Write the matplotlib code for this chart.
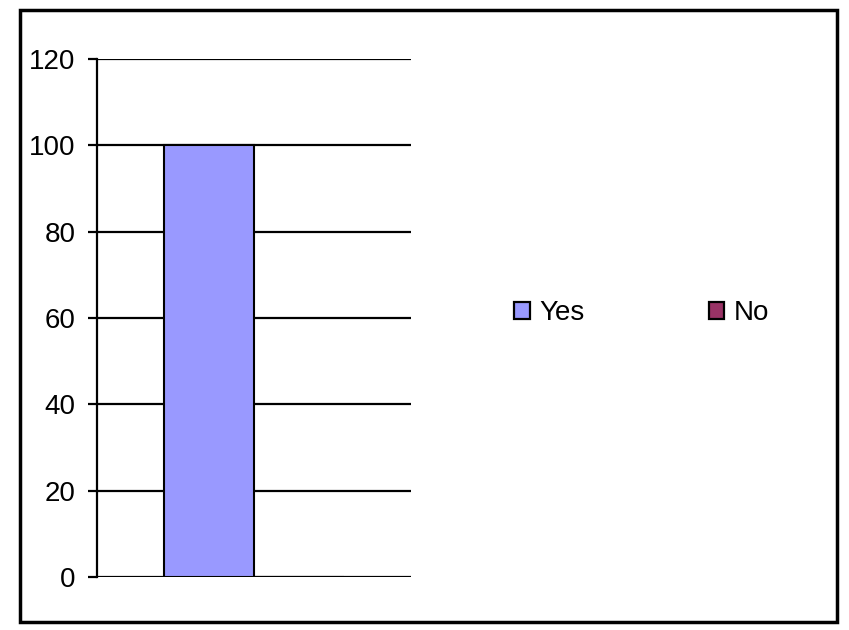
import matplotlib.pyplot as plt
from matplotlib.patches import Patch, Rectangle
import numpy as np

plt.rcParams['font.family'] = ['Liberation Sans', 'DejaVu Sans']

# data
categories = ['']
series_names = ['Yes', 'No']
series_values = [[100], [0]]
series_colors = ['#9999FF', '#993366']
y_ticks = [0, 20, 40, 60, 80, 100, 120]

fig = plt.figure(figsize=(8.49, 6.3), dpi=100)
ax = fig.add_axes([97 / 849, 1 - 577 / 630, (411 - 97) / 849, (577 - 59) / 630])

# excel style clustered column: 2 bars + 1.5 gap
w = 1 / 3.5
x = np.arange(len(categories))
for i, (name, vals, col) in enumerate(zip(series_names, series_values, series_colors)):
    offset = (i - (len(series_names) - 1) / 2) * w
    ax.bar(x + offset, vals, width=w, color=col, edgecolor='black',
           linewidth=1.5, label=name, zorder=3)

ax.set_xlim(-0.5, len(categories) - 0.5)
ax.set_ylim(0, 120)
ax.set_yticks(y_ticks)
ax.set_xticks([])
ax.yaxis.grid(True, color='black', linewidth=1.6, zorder=1)
ax.set_axisbelow(True)
for s in ['top', 'right', 'bottom']:
    ax.spines[s].set_visible(False)
ax.spines['left'].set_linewidth(1.6)
ax.spines['left'].set_zorder(4)
ax.tick_params(axis='y', length=6.5, width=1.6, pad=9, labelsize=20)

handles = [Patch(facecolor=c, edgecolor='black', linewidth=1.6) for c in series_colors]
fig.legend(handles, series_names, loc='center', bbox_to_anchor=(0.756, 0.503),
           ncol=2, frameon=False, fontsize=20, handlelength=0.55, handleheight=0.55,
           handletextpad=0.36, columnspacing=4.46)

# outer chart border
fig.patches.append(Rectangle((20 / 849, 1 - 622 / 630), (837 - 20) / 849, (622 - 10) / 630,
                             transform=fig.transFigure, fill=False, edgecolor='black',
                             linewidth=2.5))

fig.savefig('out.png', dpi=100)
